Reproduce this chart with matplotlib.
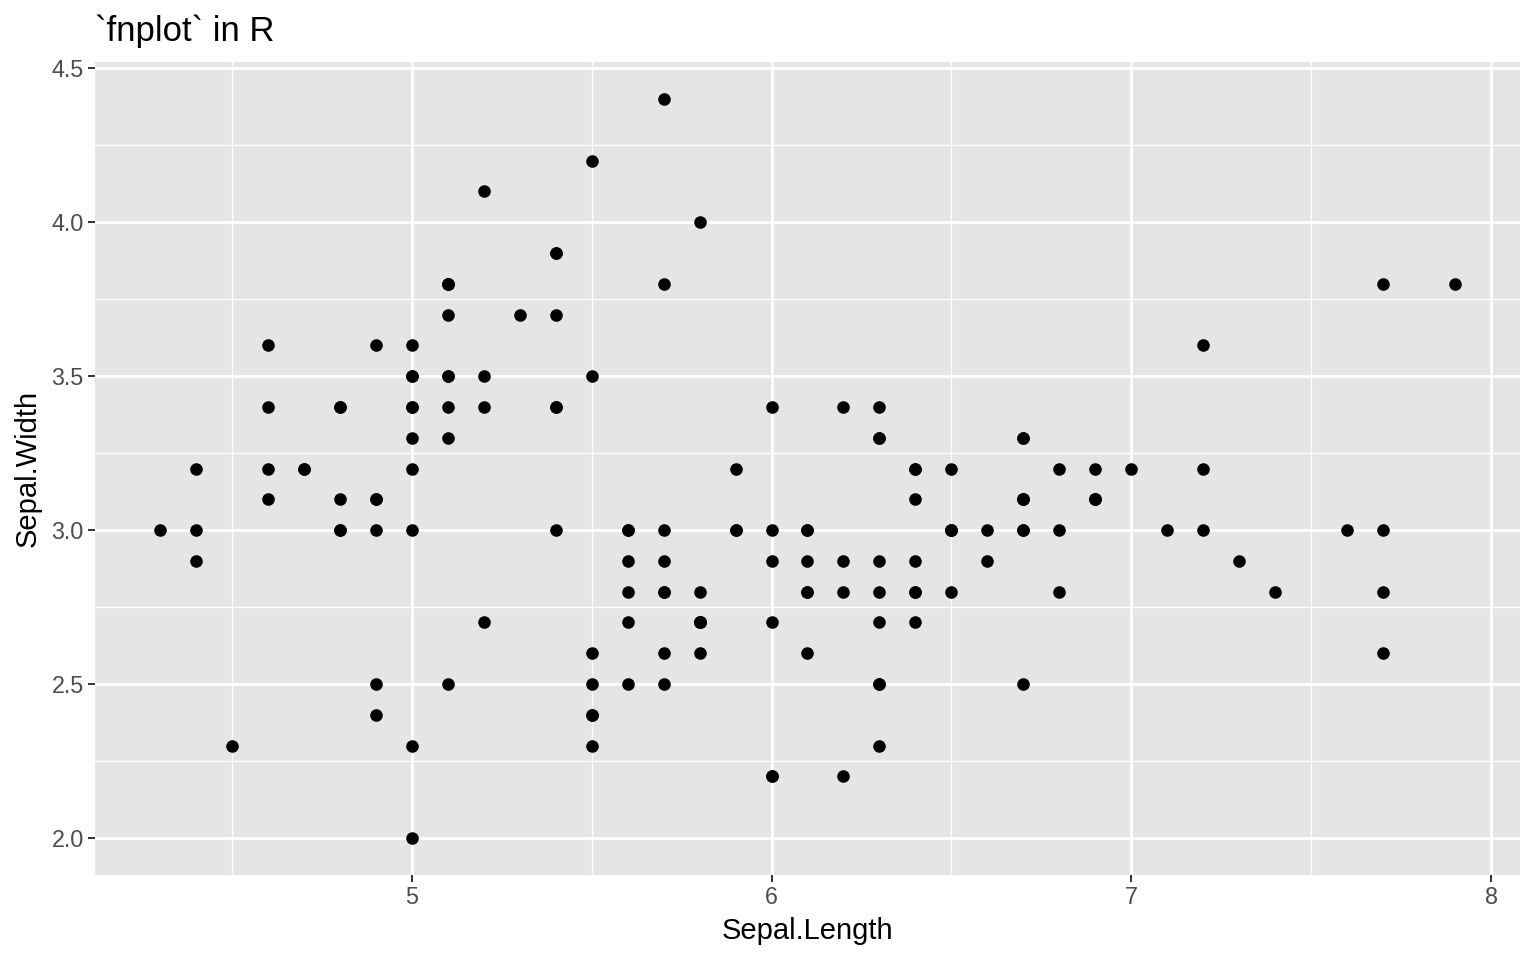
import matplotlib
matplotlib.use("Agg")
import matplotlib.pyplot as plt
from matplotlib.ticker import MultipleLocator

plt.rcParams["font.family"] = ["Liberation Sans", "DejaVu Sans"]

# iris data: Sepal.Length / Sepal.Width
sepal_length = [
    5.1, 4.9, 4.7, 4.6, 5.0, 5.4, 4.6, 5.0, 4.4, 4.9, 5.4, 4.8, 4.8, 4.3, 5.8, 5.7, 5.4, 5.1, 5.7, 5.1,
    5.4, 5.1, 4.6, 5.1, 4.8, 5.0, 5.0, 5.2, 5.2, 4.7, 4.8, 5.4, 5.2, 5.5, 4.9, 5.0, 5.5, 4.9, 4.4, 5.1,
    5.0, 4.5, 4.4, 5.0, 5.1, 4.8, 5.1, 4.6, 5.3, 5.0,
    7.0, 6.4, 6.9, 5.5, 6.5, 5.7, 6.3, 4.9, 6.6, 5.2, 5.0, 5.9, 6.0, 6.1, 5.6, 6.7, 5.6, 5.8, 6.2, 5.6,
    5.9, 6.1, 6.3, 6.1, 6.4, 6.6, 6.8, 6.7, 6.0, 5.7, 5.5, 5.5, 5.8, 6.0, 5.4, 6.0, 6.7, 6.3, 5.6, 5.5,
    5.5, 6.1, 5.8, 5.0, 5.6, 5.7, 5.7, 6.2, 5.1, 5.7,
    6.3, 5.8, 7.1, 6.3, 6.5, 7.6, 4.9, 7.3, 6.7, 7.2, 6.5, 6.4, 6.8, 5.7, 5.8, 6.4, 6.5, 7.7, 7.7, 6.0,
    6.9, 5.6, 7.7, 6.3, 6.7, 7.2, 6.2, 6.1, 6.4, 7.2, 7.4, 7.9, 6.4, 6.3, 6.1, 7.7, 6.3, 6.4, 6.0, 6.9,
    6.7, 6.9, 5.8, 6.8, 6.7, 6.7, 6.3, 6.5, 6.2, 5.9,
]
sepal_width = [
    3.5, 3.0, 3.2, 3.1, 3.6, 3.9, 3.4, 3.4, 2.9, 3.1, 3.7, 3.4, 3.0, 3.0, 4.0, 4.4, 3.9, 3.5, 3.8, 3.8,
    3.4, 3.7, 3.6, 3.3, 3.4, 3.0, 3.4, 3.5, 3.4, 3.2, 3.1, 3.4, 4.1, 4.2, 3.1, 3.2, 3.5, 3.6, 3.0, 3.4,
    3.5, 2.3, 3.2, 3.5, 3.8, 3.0, 3.8, 3.2, 3.7, 3.3,
    3.2, 3.2, 3.1, 2.3, 2.8, 2.8, 3.3, 2.4, 2.9, 2.7, 2.0, 3.0, 2.2, 2.9, 2.9, 3.1, 3.0, 2.7, 2.2, 2.5,
    3.2, 2.8, 2.5, 2.8, 2.9, 3.0, 2.8, 3.0, 2.9, 2.6, 2.4, 2.4, 2.7, 2.7, 3.0, 3.4, 3.1, 2.3, 3.0, 2.5,
    2.6, 3.0, 2.6, 2.3, 2.7, 3.0, 2.9, 2.9, 2.5, 2.8,
    3.3, 2.7, 3.0, 2.9, 3.0, 3.0, 2.5, 2.9, 2.5, 3.6, 3.2, 2.7, 3.0, 2.5, 2.8, 3.2, 3.0, 3.8, 2.6, 2.2,
    3.2, 2.8, 2.8, 2.7, 3.3, 3.2, 2.8, 3.0, 2.8, 3.0, 2.8, 3.8, 2.8, 2.8, 2.6, 3.0, 3.4, 3.1, 3.0, 3.1,
    3.1, 3.1, 2.7, 3.2, 3.3, 3.0, 2.5, 3.0, 3.4, 3.0,
]

fig = plt.figure(figsize=(15.36, 9.6), dpi=100)
ax = fig.add_axes([95 / 1536, 1 - 875 / 960, 1425 / 1536, 813 / 960])

ax.set_facecolor("#E5E5E5")
ax.scatter(sepal_length, sepal_width, s=82, color="black", linewidths=0, zorder=3)

xr = max(sepal_length) - min(sepal_length)
yr = max(sepal_width) - min(sepal_width)
ax.set_xlim(min(sepal_length) - 0.05 * xr, max(sepal_length) + 0.05 * xr)
ax.set_ylim(min(sepal_width) - 0.05 * yr, max(sepal_width) + 0.05 * yr)

ax.xaxis.set_major_locator(MultipleLocator(1))
ax.xaxis.set_minor_locator(MultipleLocator(0.5))
ax.yaxis.set_major_locator(MultipleLocator(0.5))
ax.yaxis.set_minor_locator(MultipleLocator(0.25))
ax.yaxis.set_major_formatter(plt.FuncFormatter(lambda v, p: f"{v:.1f}"))

ax.grid(which="major", color="white", linewidth=1.95, zorder=1)
ax.grid(which="minor", color="white", linewidth=1.0, zorder=1)
ax.set_axisbelow(True)

for sp in ax.spines.values():
    sp.set_visible(False)

ax.tick_params(which="major", length=5, width=1.4, color="#333333",
               labelcolor="#4D4D4D", labelsize=16.8, pad=3)
ax.tick_params(which="minor", length=0)

ax.set_xlabel("Sepal.Length", fontsize=21, color="black", labelpad=6)
ax.set_ylabel("Sepal.Width", fontsize=21, color="black", labelpad=7)
fig.text(95 / 1536, 1 - 31 / 960, "`fnplot` in R", fontsize=25, color="black",
         va="center", ha="left")

fig.savefig("out.png", dpi=100)
